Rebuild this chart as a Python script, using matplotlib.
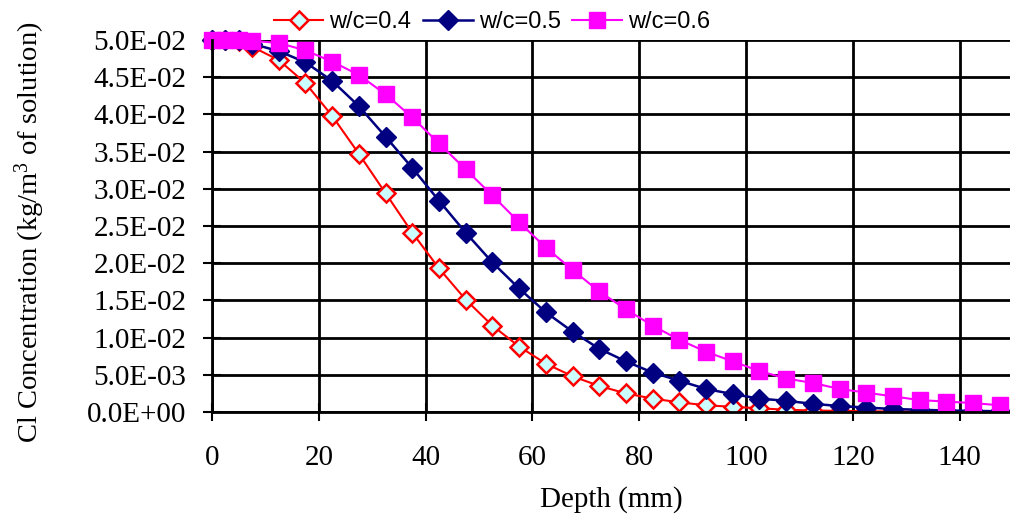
import matplotlib
matplotlib.use("Agg")
import matplotlib.pyplot as plt
from matplotlib.patches import Rectangle
from matplotlib.ticker import MultipleLocator, FuncFormatter

depth = [0, 2.5, 5, 7.5, 12.5, 17.5, 22.5, 27.5, 32.5, 37.5, 42.5, 47.5, 52.5,
         57.5, 62.5, 67.5, 72.5, 77.5, 82.5, 87.5, 92.5, 97.5, 102.5, 107.5,
         112.5, 117.5, 122.5, 127.5, 132.5, 137.5, 142.5, 147.5]

wc04 = [0.0500, 0.0500, 0.0499, 0.0491, 0.0473, 0.0442, 0.0398, 0.0347, 0.0294,
        0.0241, 0.0193, 0.0151, 0.0116, 0.0088, 0.0065, 0.0048, 0.0035, 0.0025,
        0.0018, 0.0013, 0.0009, 0.0007, 0.0005, 0.0003, 0.0002, 0.00015,
        0.0001, 0.00007, 0.00005, 0.00003, 0.00002, 0.00001]

wc05 = [0.0500, 0.0500, 0.0500, 0.0495, 0.0485, 0.0470, 0.0445, 0.0411, 0.0370,
        0.0328, 0.0284, 0.0241, 0.0201, 0.0166, 0.0134, 0.0108, 0.0085, 0.0068,
        0.0053, 0.0042, 0.0031, 0.0024, 0.0018, 0.0015, 0.0011, 0.0008,
        0.0006, 0.0004, 0.0003, 0.0002, 0.00015, 0.0001]

wc06 = [0.0500, 0.0500, 0.0500, 0.0499, 0.0496, 0.0486, 0.0471, 0.0453, 0.0427,
        0.0396, 0.0361, 0.0326, 0.0291, 0.0255, 0.0221, 0.0191, 0.0162, 0.0138,
        0.0116, 0.0097, 0.0081, 0.0068, 0.0055, 0.0045, 0.0039, 0.0031,
        0.0026, 0.0021, 0.0016, 0.0014, 0.0012, 0.0009]

series_labels = ["w/c=0.4", "w/c=0.5", "w/c=0.6"]
x_label = "Depth (mm)"
y_label = "Cl Concentration (kg/m$^3$ of solution)"

serif = ["Liberation Serif", "DejaVu Serif"]
sans = ["Liberation Sans", "DejaVu Sans"]

plt.rcParams["mathtext.fontset"] = "custom"
plt.rcParams["mathtext.rm"] = "Liberation Serif"
plt.rcParams["mathtext.it"] = "Liberation Serif"
plt.rcParams["mathtext.default"] = "rm"

fig = plt.figure(figsize=(10.1, 5.15), dpi=100)
ax = fig.add_axes([212 / 1010, 103 / 515, (1010 - 212) / 1010, 372 / 515])

ax.set_xlim(0, 149.4)
ax.set_ylim(0, 0.05)
ax.xaxis.set_major_locator(MultipleLocator(20))
ax.yaxis.set_major_locator(MultipleLocator(0.005))


def sci_fmt(v, pos):
    return "%.1E" % v


ax.yaxis.set_major_formatter(FuncFormatter(sci_fmt))

ax.set_axisbelow(True)
ax.grid(True, color="black", linewidth=2.0)
for side in ["top", "right"]:
    ax.spines[side].set_visible(False)
for side in ["left", "bottom"]:
    ax.spines[side].set_linewidth(2.0)
    ax.spines[side].set_color("black")

ax.tick_params(axis="both", direction="inout", length=13, width=1.5,
               color="black", labelsize=21)
ax.tick_params(axis="y", pad=12)
ax.tick_params(axis="x", pad=17)
for lab in ax.get_xticklabels() + ax.get_yticklabels():
    lab.set_family(serif)

clip = Rectangle((-0.05, 0.0), 1.2, 1.2, transform=ax.transAxes,
                 facecolor="none", edgecolor="none")
ax.add_patch(clip)

l1, = ax.plot(depth, wc04, color="#FF0000", linewidth=1.5, marker="D",
              markersize=9.5, markerfacecolor="#CCFFFF",
              markeredgecolor="#FF0000", markeredgewidth=1.8,
              label=series_labels[0])
l2, = ax.plot(depth, wc05, color="#000080", linewidth=1.8, marker="D",
              markersize=10.5, markerfacecolor="#000080",
              markeredgecolor="#000080", label=series_labels[1])
l3, = ax.plot(depth, wc06, color="#FF00FF", linewidth=1.5, marker="s",
              markersize=11.5, markerfacecolor="#FF00FF",
              markeredgecolor="#FF00FF", label=series_labels[2])
for ln in (l1, l2, l3):
    ln.set_clip_path(clip)

ax.set_xlabel(x_label, family=serif, fontsize=21, labelpad=11)
ax.set_ylabel(y_label, family=serif, fontsize=20.5)
ax.yaxis.set_label_coords(-165 / 798, 0.484)

leg = fig.legend(handles=[l1, l2, l3], loc="center",
                 bbox_to_anchor=(492 / 1010, 1 - 22 / 515), ncol=3,
                 frameon=False, prop={"family": sans, "size": 17},
                 handlelength=2.1, handletextpad=0.25, columnspacing=0.5,
                 borderaxespad=0, borderpad=0)

fig.savefig("out.png", dpi=100)
